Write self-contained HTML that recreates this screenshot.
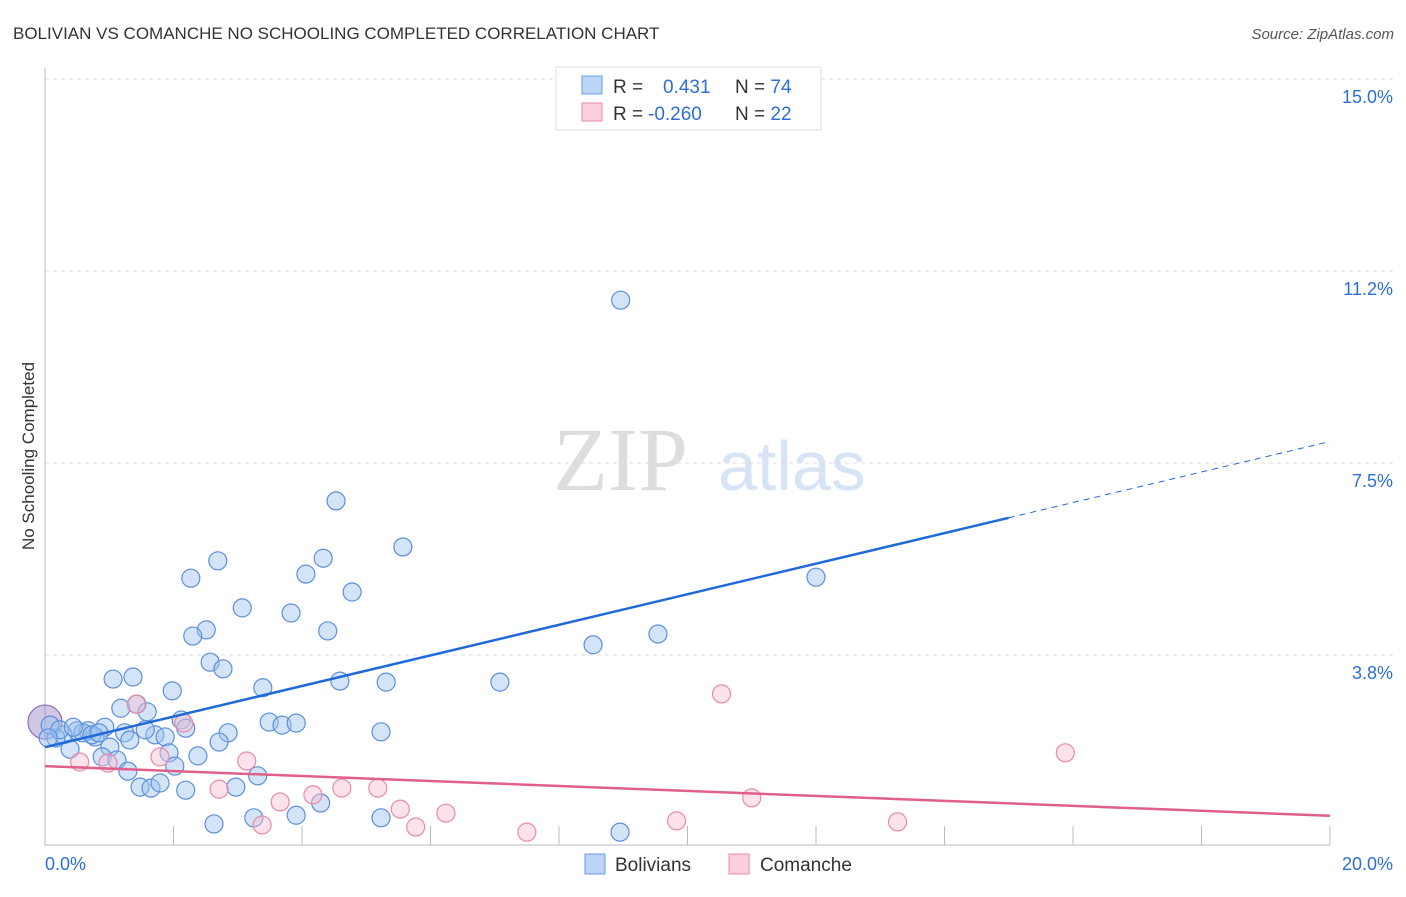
<!DOCTYPE html>
<html><head><meta charset="utf-8"><style>
body{margin:0;background:#fff;font-family:"Liberation Sans",sans-serif}
</style></head><body>
<svg id="c" width="1406" height="892" xmlns="http://www.w3.org/2000/svg">
<text x="13" y="39" font-size="17" fill="#333">BOLIVIAN VS COMANCHE NO SCHOOLING COMPLETED CORRELATION CHART</text>
<text x="1394" y="39" font-size="15" fill="#555" font-style="italic" text-anchor="end">Source: ZipAtlas.com</text>
<text x="34" y="456" font-size="17" fill="#333" text-anchor="middle" transform="rotate(-90 34 456)">No Schooling Completed</text>
<g><text x="553" y="490" font-size="90" fill="#ddd" font-family="Liberation Serif">ZIP</text><text x="718" y="490" font-size="70" fill="#d6e4f5">atlas</text></g>
<g id="grid"></g><g id="marks"></g>
<g>
<rect x="556" y="67" width="265" height="63" fill="#fff" stroke="#ddd"/>
<rect x="582" y="76" width="20" height="18" fill="#bcd4f5" stroke="#6a9de0"/>
<rect x="582" y="103" width="20" height="18" fill="#fbd0dc" stroke="#e88aa8"/>
<text x="613" y="93" font-size="19" fill="#333">R = <tspan fill="#2d6fd6" x="663">0.431</tspan><tspan x="735">N = </tspan><tspan fill="#2d6fd6">74</tspan></text>
<text x="613" y="120" font-size="19" fill="#333">R = <tspan fill="#2d6fd6" x="648">-0.260</tspan><tspan x="735">N = </tspan><tspan fill="#2d6fd6">22</tspan></text>
</g>
<g>
<rect x="585" y="854" width="20" height="20" fill="#bcd4f5" stroke="#6a9de0"/><text x="615" y="871" font-size="19" fill="#333">Bolivians</text>
<rect x="729" y="854" width="20" height="20" fill="#fbd0dc" stroke="#e88aa8"/><text x="760" y="871" font-size="19" fill="#333">Comanche</text>
</g>
</svg>
<script>
const yTicks=[3.75,7.5,11.25,15];
const yTickLabels=["3.8%","7.5%","11.2%","15.0%"];
const xTickLabels=["0.0%","20.0%"];
const blueX=[8.96,4.53,5.57,4.33,2.69,4.06,2.27,12.0,4.78,3.07,3.83,2.51,2.30,4.40,9.54,8.53,2.57,2.77,1.06,1.37,4.59,5.31,7.08,1.98,3.39,1.18,1.43,1.59,2.12,3.49,3.69,3.91,0.93,0.50,0.67,0.78,0.28,0.17,1.24,1.71,1.87,2.19,2.85,5.23,2.71,1.01,0.39,1.93,2.38,0.89,1.12,2.02,1.29,3.31,1.48,1.65,1.79,2.19,2.97,4.29,3.25,3.91,5.23,2.63,8.95,0.08,0.23,0.59,0.73,0.84,0.05,1.32,1.56,0.44];
const blueY=[10.68,6.76,5.86,5.64,5.59,5.33,5.25,5.27,4.98,4.67,4.57,4.24,4.12,4.22,4.16,3.95,3.61,3.48,3.28,3.32,3.24,3.22,3.22,3.05,3.11,2.71,2.79,2.64,2.48,2.44,2.38,2.42,2.34,2.27,2.27,2.15,2.19,2.13,2.23,2.19,2.15,2.32,2.23,2.25,2.05,1.95,1.91,1.84,1.78,1.76,1.70,1.58,1.48,1.39,1.17,1.15,1.25,1.11,1.17,0.86,0.57,0.62,0.57,0.45,0.29,2.38,2.29,2.23,2.19,2.23,2.13,2.09,2.29,2.34];
const pinkX=[1.42,2.16,0.54,0.98,1.79,3.14,2.71,3.38,3.66,4.17,4.62,5.18,5.53,5.77,6.24,7.50,9.83,10.53,11.0,13.27,15.88];
const pinkY=[2.79,2.42,1.66,1.64,1.76,1.68,1.13,0.43,0.88,1.02,1.15,1.15,0.74,0.39,0.66,0.29,0.51,2.99,0.96,0.49,1.84];
const bigPoint=[0,2.44];
const blueTrend=[1.95,6.43,7.92]; // at x=0,15,20
const pinkTrend=[1.58,0.61]; // at x=0,20
const X=v=>45+v/20*1285, Y=v=>847-v/3.75*192;
const NS="http://www.w3.org/2000/svg";
function mk(t,a,p){const e=document.createElementNS(NS,t);for(const k in a)e.setAttribute(k,a[k]);p.appendChild(e);return e;}
const g=document.getElementById('grid'),m=document.getElementById('marks');
yTicks.forEach((t,i)=>{const l=mk('line',{x1:45,x2:1395,y1:Y(t),y2:Y(t),stroke:'#ddd','stroke-dasharray':'4,4'},g);


const tx=mk('text',{x:1393,y:Y(t)+24,'font-size':18,fill:'#2d6fd6','text-anchor':'end'},g);tx.textContent=yTickLabels[i];

});
const ax=mk('path',{d:'M45,68V845H1330',stroke:'#bbb',fill:'none'},g);


for(let i=1;i<=10;i++){const t=mk('line',{x1:X(i*2),x2:X(i*2),y1:826,y2:845,stroke:'#bbb'},g);

}
[[0,'start',45],[1,'end',1393]].forEach(([i,a,x])=>{const t=mk('text',{x:x,y:870,'font-size':18,fill:'#2d6fd6','text-anchor':a},g);t.textContent=xTickLabels[i];

});
const bb=mk('circle',{cx:X(bigPoint[0]),cy:Y(bigPoint[1]),r:17,fill:'rgba(150,130,200,0.45)',stroke:'#8a6fb8','stroke-width':1.2},m);


blueX.forEach((v,i)=>{const c=mk('circle',{cx:X(v),cy:Y(blueY[i]),r:9,fill:'rgba(160,195,240,0.45)',stroke:'#5b8fdc','stroke-width':1.2},m);

});
pinkX.forEach((v,i)=>{const c=mk('circle',{cx:X(v),cy:Y(pinkY[i]),r:9,fill:'rgba(248,190,208,0.45)',stroke:'#e88aa8','stroke-width':1.2},m);

});
let l=mk('line',{x1:X(0),y1:Y(blueTrend[0]),x2:X(15),y2:Y(blueTrend[1]),stroke:'#1f6ad8','stroke-width':2.5},m);


l=mk('line',{x1:X(15),y1:Y(blueTrend[1]),x2:X(20),y2:Y(blueTrend[2]),stroke:'#1f6ad8','stroke-width':1,'stroke-dasharray':'6,5'},m);


l=mk('line',{x1:X(0),y1:Y(pinkTrend[0]),x2:X(20),y2:Y(pinkTrend[1]),stroke:'#e0608a','stroke-width':2.5},m);


</script>
</body></html>
